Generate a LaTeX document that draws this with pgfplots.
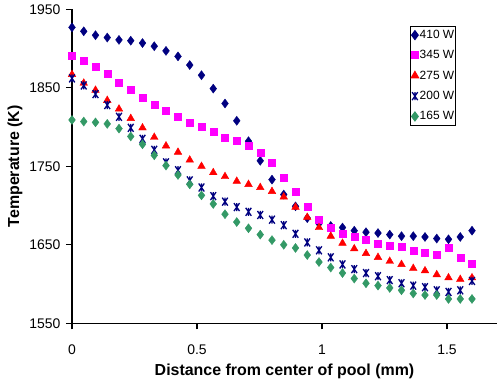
\documentclass[border=0pt]{standalone}
\usepackage{pgfplots}
\pgfplotsset{compat=1.18}
\usepackage{pgfplotstable}
\usepackage{fontspec}
\setmainfont{Liberation Sans}
\definecolor{cNavy}{HTML}{000080}
\definecolor{cMag}{HTML}{FF00FF}
\definecolor{cRed}{HTML}{FF0000}
\definecolor{cGreen}{HTML}{339966}
\pgfdeclareplotmark{xstar}{%
  \pgfpathmoveto{\pgfqpoint{-0.7\pgfplotmarksize}{-\pgfplotmarksize}}%
  \pgfpathlineto{\pgfqpoint{0.7\pgfplotmarksize}{\pgfplotmarksize}}%
  \pgfpathmoveto{\pgfqpoint{-0.7\pgfplotmarksize}{\pgfplotmarksize}}%
  \pgfpathlineto{\pgfqpoint{0.7\pgfplotmarksize}{-\pgfplotmarksize}}%
  \pgfpathmoveto{\pgfqpoint{0pt}{-\pgfplotmarksize}}%
  \pgfpathlineto{\pgfqpoint{0pt}{\pgfplotmarksize}}%
  \pgfusepathqstroke}
\pgfplotstableread{
x p410 p345 p275 p200 p165
0 1927 1891 1867 1862 1809
0.047 1922 1885 1856 1853 1807
0.094 1917 1877 1847 1842 1806
0.141 1914 1868 1834 1828 1804
0.188 1911 1857 1823 1813 1798
0.235 1910 1847 1811 1799 1788
0.282 1907 1838 1799 1785 1778
0.329 1903 1829 1787 1771 1764
0.376 1897 1821 1776 1755 1751
0.424 1890 1813 1768 1745 1739
0.471 1879 1806 1758 1732 1727
0.518 1866 1800 1750 1723 1713
0.565 1849 1794 1742 1712 1702
0.612 1830 1787 1737 1705 1689
0.659 1808 1782 1731 1698 1679
0.706 1782 1776 1727 1692 1671
0.753 1757 1767 1723 1688 1663
0.800 1733 1755 1718 1682 1656
0.847 1714 1736 1711 1675 1650
0.894 1699 1718 1698 1664 1646
0.941 1684 1698 1685 1653 1637
0.988 1677 1682 1672 1643 1628
1.035 1674 1672 1661 1634 1621
1.082 1672 1664 1652 1625 1614
1.129 1668 1660 1645 1619 1607
1.176 1666 1656 1639 1614 1601
1.224 1665 1652 1634 1610 1598
1.271 1663 1649 1629 1605 1595
1.318 1661 1647 1625 1601 1592
1.365 1661 1643 1620 1598 1588
1.412 1660 1640 1617 1596 1586
1.459 1658 1637 1612 1592 1586
1.506 1657 1646 1608 1590 1581
1.553 1660 1634 1606 1592 1581
1.600 1668 1626 1608 1604 1581
}\data
\begin{document}
\begin{tikzpicture}
\path[use as bounding box] (-72bp,-59.7bp) rectangle (426bp,323.3bp);
\begin{axis}[
  at={(0,0)}, anchor=south west,
  scale only axis,
  width=425bp, height=314bp,
  xmin=0, xmax=1.7, ymin=1550, ymax=1950,
  axis x line*=bottom, axis y line*=left,
  axis line style={line width=1.2bp,-},
  xtick={0,0.5,1,1.5},
  ytick={1550,1650,1750,1850,1950},
  tick align=outside,
  major tick length=6bp,
  tick style={line width=1.2bp,black},
  /pgf/number format/assume math mode=true,
  /pgf/number format/1000 sep={},
  ticklabel style={font=\fontsize{14}{16}\selectfont},
  xticklabel style={yshift=-12bp},
  yticklabel style={xshift=-2bp},
  xlabel={\textbf{Distance from center of pool (mm)}},
  ylabel={\textbf{Temperature (K)}},
  label style={font=\fontsize{16}{18}\selectfont},
  xlabel style={at={(axis description cs:0.5,0)}, anchor=center, yshift=-47.7bp},
  ylabel style={at={(axis description cs:0,0.5)}, anchor=center, yshift=57bp},
  clip=false,
  legend style={at={(axis description cs:0.9042,0.9478)}, anchor=north east, draw=black, line width=1bp,
    font=\fontsize{12}{14}\selectfont, inner xsep=0.5bp, inner ysep=2bp,
    nodes={inner xsep=1bp, inner ysep=2bp},
    row sep=6.5bp, cells={anchor=west}},
  legend cell align=left,
  legend image code/.code={\draw[#1] plot coordinates {(3bp,0bp)};},
]
\addplot[only marks, mark=diamond*, mark size=4.5bp, color=cNavy, mark options={fill=cNavy, draw=cNavy}] table[x=x,y=p410]{\data};
\addlegendentry{410 W}
\addplot[only marks, mark=square*, mark size=3.5bp, color=cMag, mark options={fill=cMag, draw=cMag}] table[x=x,y=p345]{\data};
\addlegendentry{345 W}
\addplot[only marks, mark=triangle*, mark size=4.4bp, color=cRed, mark options={fill=cRed, draw=cRed}] table[x=x,y=p275]{\data};
\addlegendentry{275 W}
\addplot[only marks, mark=xstar, mark size=4bp, color=cNavy, mark options={line width=1.3bp}] table[x=x,y=p200]{\data};
\addlegendentry{200 W}
\addplot[only marks, mark=diamond*, mark size=4.5bp, color=cGreen, mark options={fill=cGreen, draw=cGreen}] table[x=x,y=p165]{\data};
\addlegendentry{165 W}
\end{axis}
\end{tikzpicture}
\end{document}
